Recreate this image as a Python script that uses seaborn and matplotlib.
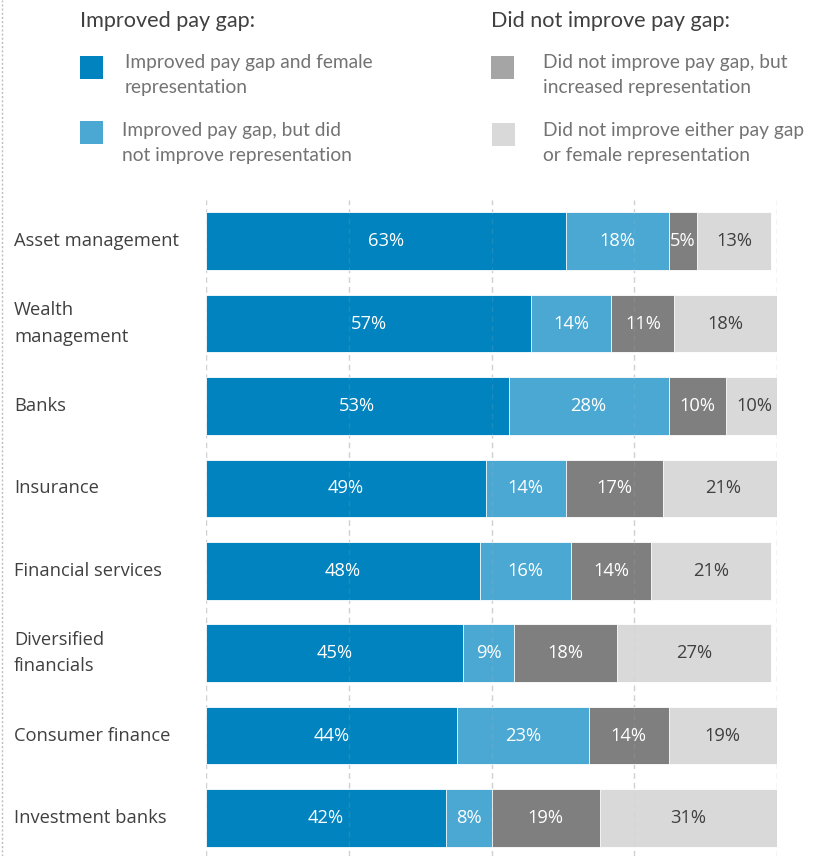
import matplotlib
matplotlib.use("Agg")
import matplotlib.pyplot as plt
from matplotlib.patches import Rectangle
from matplotlib.lines import Line2D
from matplotlib.transforms import blended_transform_factory
import pandas as pd
import seaborn as sns

# Share of firms (%) in each outcome group, by sector
sectors = ["Asset management", "Wealth\nmanagement", "Banks", "Insurance",
           "Financial services", "Diversified\nfinancials", "Consumer finance",
           "Investment banks"]
improved_both = [63, 57, 53, 49, 48, 45, 44, 42]
improved_gap_only = [18, 14, 28, 14, 16, 9, 23, 8]
increased_rep_only = [5, 11, 10, 17, 14, 18, 14, 19]
improved_neither = [13, 18, 10, 21, 21, 27, 19, 31]

series_names = ["Improved pay gap and female\nrepresentation",
                "Improved pay gap, but did\nnot improve representation",
                "Did not improve pay gap, but\nincreased representation",
                "Did not improve either pay gap\nor female representation"]
group_titles = ["Improved pay gap:", "Did not improve pay gap:"]
colors = ["#0083be", "#4ba8d3", "#7f7f7f", "#d9d9d9"]
legend_colors = ["#0083be", "#4ba8d3", "#a5a5a5", "#d9d9d9"]
label_colors = ["white", "white", "white", "#404040"]
x_ticks = [0, 25, 50, 75, 100]

sns.set_theme(style="white")
plt.rcParams["font.family"] = ["Open Sans", "DejaVu Sans"]

df = pd.DataFrame({"sector": sectors,
                   "s0": improved_both, "s1": improved_gap_only,
                   "s2": increased_rep_only, "s3": improved_neither})
cols = ["s0", "s1", "s2", "s3"]
cum = df[cols].cumsum(axis=1)

W, H = 823, 856
fig = plt.figure(figsize=(W / 100, H / 100), dpi=100)
ax = fig.add_axes([206 / W, 0, 571 / W, 656 / H])

# light dashed grid under the bars
for xv in x_ticks:
    ax.axvline(xv, color="#d4d4d4", lw=1.0, ls=(0, (4, 3)), zorder=0)

# stacked bars: draw cumulative totals from longest to shortest
for k in range(3, -1, -1):
    sns.barplot(x=cum[cols[k]], y=df["sector"], orient="h", color=colors[k],
                width=0.7, edgecolor="white", linewidth=0.6, saturation=1,
                ax=ax, zorder=2)

# faint grid showing through the bars
for xv in x_ticks:
    ax.axvline(xv, color="#c0c0c0", lw=1.0, ls=(0, (4, 3)), alpha=0.15, zorder=4)

# segment value labels
for i in range(len(df)):
    start = 0
    for k, c in enumerate(cols):
        v = df.loc[i, c]
        ax.text(start + v / 2, i, f"{v}%", ha="center", va="center",
                color=label_colors[k], fontsize=13.2, zorder=5)
        start += v

ax.set_xlim(0, 100)
ax.set_ylim(-0.5 + 656 / 82.4, -0.5)
ax.set_xlabel("")
ax.set_ylabel("")
ax.set_xticks([])
ax.set_yticks([])
for s in ax.spines.values():
    s.set_visible(False)

# sector names, left-aligned near the figure edge
tr = blended_transform_factory(fig.transFigure, ax.transData)
for i, name in enumerate(sectors):
    ax.text(14 / W, i, name, transform=tr, ha="left", va="center",
            fontsize=13.2, color="#404040", linespacing=1.6)

# legend block
def fx(px):
    return px / W

def fy(py):
    return 1 - py / H

legend_font = ["Lato", "DejaVu Sans"]
fig.text(fx(80), fy(21), group_titles[0], ha="left", va="center",
         fontsize=15.6, color="#404040", family=legend_font)
fig.text(fx(491), fy(21), group_titles[1], ha="left", va="center",
         fontsize=15.6, color="#404040", family=legend_font)

boxes = [(80, 56), (80, 121), (491, 56), (492, 123)]
text_pos = [(125, 75), (122, 143), (543, 75), (543, 143)]
for k in range(4):
    bx, by = boxes[k]
    fig.patches.append(Rectangle((fx(bx), fy(by + 23)), 23 / W, 23 / H,
                                 transform=fig.transFigure,
                                 color=legend_colors[k], lw=0))
    tx, ty = text_pos[k]
    fig.text(fx(tx), fy(ty), series_names[k], ha="left", va="center",
             fontsize=13.8, color="#737373", family=legend_font,
             linespacing=1.55)

# dotted frame line on the left edge
fig.add_artist(Line2D([1.5 / W, 1.5 / W], [0, 1], transform=fig.transFigure,
                      color="#bdbdbd", lw=1, ls=(0, (1.5, 1.5))))

fig.savefig("out.png", dpi=100)
